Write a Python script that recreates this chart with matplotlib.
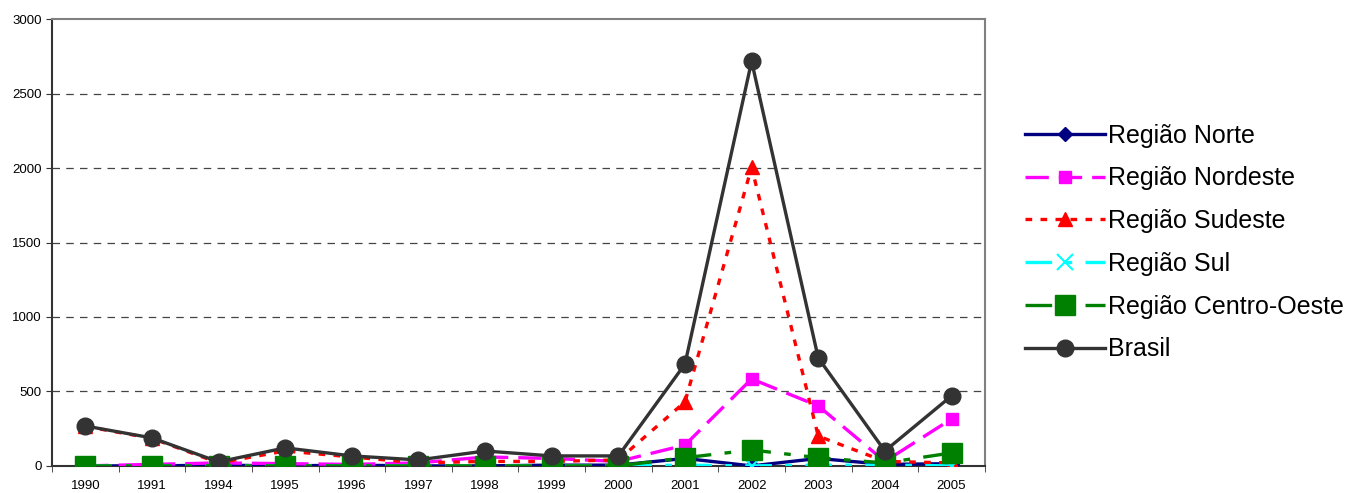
import matplotlib.pyplot as plt
import numpy as np

plt.rcParams['font.family'] = ['Liberation Sans', 'DejaVu Sans']

anos = ['1990', '1991', '1994', '1995', '1996', '1997', '1998', '1999',
        '2000', '2001', '2002', '2003', '2004', '2005']

norte = [0, 0, 5, 0, 5, 0, 0, 5, 5, 50, 0, 50, 10, 15]
nordeste = [0, 10, 20, 15, 10, 20, 60, 50, 30, 140, 584, 403, 30, 315]
sudeste = [265, 185, 20, 100, 60, 20, 30, 30, 40, 430, 2006, 200, 30, 20]
sul = [0, 0, 0, 0, 0, 0, 0, 0, 0, 5, 0, 5, 5, 0]
centro_oeste = [0, 0, 0, 0, 0, 0, 0, 0, 0, 55, 107, 55, 20, 87]
brasil = [268, 188, 27, 121, 67, 40, 100, 67, 67, 684, 2718, 725, 100, 470]

fig = plt.figure(figsize=(13.5, 4.93), dpi=100)
ax = fig.add_axes([0.0385, 0.055, 0.691, 0.906])

x = np.arange(len(anos))
lw = 2.4
ax.plot(x, norte, color='#000080', lw=lw, marker='D', ms=7, label='Região Norte', zorder=3)
ax.plot(x, nordeste, color='#FF00FF', lw=lw, ls=(0, (7, 3)), marker='s', ms=9,
        label='Região Nordeste', zorder=3)
ax.plot(x, sudeste, color='#FF0000', lw=lw, ls=(0, (2, 2.5)), marker='^', ms=10,
        label='Região Sudeste', zorder=3)
ax.plot(x, sul, color='#00FFFF', lw=lw, ls=(0, (8, 4, 2, 4)), marker='x', ms=12, mew=1.5,
        label='Região Sul', zorder=3)
ax.plot(x, centro_oeste, color='#008000', lw=lw, ls=(0, (8, 4, 2, 4)), marker='s', ms=14,
        label='Região Centro-Oeste', zorder=3)
ax.plot(x, brasil, color='#333333', lw=lw, marker='o', ms=12, label='Brasil', zorder=4)

ax.set_xlim(-0.5, len(anos) - 0.5)
ax.set_ylim(0, 3000)
ax.set_xticks(x)
ax.set_xticklabels(anos, fontsize=9.5)
ax.set_xticks(np.arange(-0.5, len(anos)), minor=True)
ax.tick_params(axis='x', which='major', length=0, pad=10)
ax.tick_params(axis='x', which='minor', length=4, color='#333333')
ax.set_yticks(range(0, 3001, 500))
ax.set_yticklabels([str(v) for v in range(0, 3001, 500)], fontsize=9.5)
ax.tick_params(axis='y', length=4, color='#333333')

for v in range(500, 3000, 500):
    ax.axhline(v, color='#444444', ls=(0, (6, 5)), lw=0.9, zorder=1)

for s in ['top', 'right']:
    ax.spines[s].set_color('#808080')
    ax.spines[s].set_linewidth(1.5)
for s in ['left', 'bottom']:
    ax.spines[s].set_color('#333333')
    ax.spines[s].set_linewidth(1.5)

ax.legend(loc='center left', bbox_to_anchor=(1.032, 0.5), frameon=False,
          fontsize=18, handlelength=3.2, labelspacing=0.75, handletextpad=0.15,
          borderaxespad=0, numpoints=1)

fig.savefig('out.png', dpi=100)
